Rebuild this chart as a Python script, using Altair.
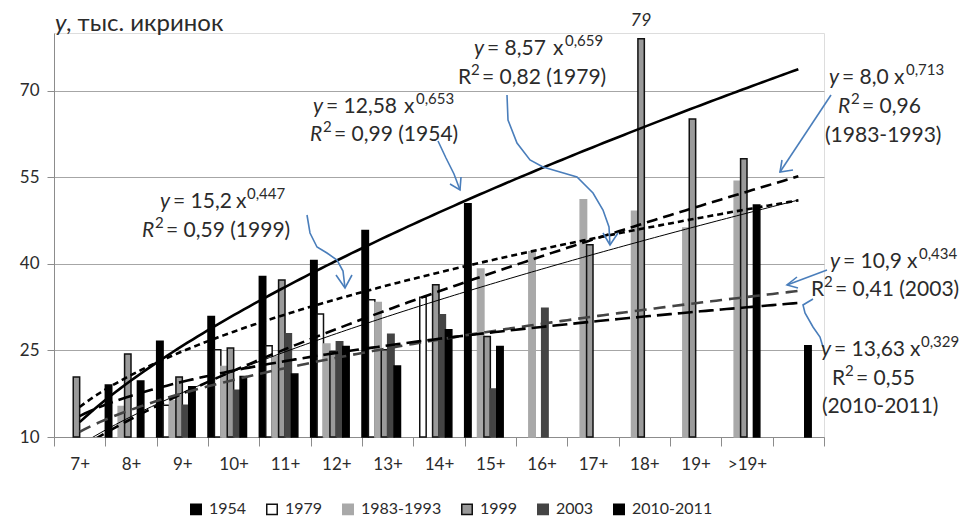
import altair as alt
import pandas as pd

# ---------------- data ----------------
categories = ["7+", "8+", "9+", "10+", "11+", "12+", "13+", "14+", "15+",
              "16+", "17+", "18+", "19+", ">19+", " "]
series = ["1954", "1979", "1983-1993", "1999", "2003", "2010-2011"]

N = None
v1954 = [N, 19.0, 26.6, 30.9, 37.8, 40.6, 45.8, N, 50.4, N, N, N, N, N, N]
v1979 = [N, N, 15.5, 25.1, 25.8, 31.3, 33.8, 34.2, N, N, N, N, N, N, N]
v1983 = [N, 15.3, 16.3, 22.2, 23.9, 26.1, 33.3, N, 39.1, 42.1, 51.1, 49.1, 46.2, 54.3, N]
v1999 = [20.4, 24.4, 20.4, 25.4, 37.2, 24.8, 25.1, 36.4, 27.4, N, 43.3, 79.0, 65.1, 58.2, N]
v2003 = [N, N, 15.5, 18.1, 27.9, 26.5, 27.8, 31.2, 18.3, 32.3, N, N, N, N, N]
v2010 = [N, 19.7, 18.7, 20.5, 20.9, 25.7, 22.3, 28.6, 25.7, N, N, N, N, 50.2, 25.8]
all_values = [v1954, v1979, v1983, v1999, v2003, v2010]

# power trend lines y = a * x^b  (as printed on the chart)
trend_a = [12.58, 8.57, 8.0, 15.2, 10.9, 13.63]
trend_b = [0.653, 0.659, 0.713, 0.447, 0.434, 0.329]

# ---------------- styling ----------------
FONT = "Lato"
TXT = "#2b2b2b"
BLUE = "#4a7ebb"
W, H = 770, 404
OX, OY = 54, 33  # plot origin on the page

fill_range = ["#000000", "#ffffff", "#a9a9a9", "#9a9a9a", "#444444", "#000000"]
stroke_range = ["#000000", "#111111", "#a9a9a9", "#111111", "#444444", "#000000"]
line_styles = [
    dict(color="#000000", strokeWidth=2.6),
    dict(color="#000000", strokeWidth=1.0),
    dict(color="#000000", strokeWidth=2.6, strokeDash=[11, 6]),
    dict(color="#000000", strokeWidth=2.6, strokeDash=[6, 4]),
    dict(color="#444444", strokeWidth=2.6, strokeDash=[12, 7]),
    dict(color="#000000", strokeWidth=2.6, strokeDash=[15, 6]),
]

rows = []
for s, vals in zip(series, all_values):
    for c, v in zip(categories, vals):
        if v is not None:
            rows.append({"cat": c, "series": s, "value": v, "base": 10})
bars_df = pd.DataFrame(rows)

yscale = alt.Scale(domain=[10, 80], nice=False, zero=False)
slot_domain = series + ["_g1", "_g2"]

legend = alt.Legend(
    title=None, orient="none", direction="horizontal", columns=6,
    legendX=134, legendY=468, symbolType="square", symbolSize=110,
    symbolStrokeWidth=1.5, labelFont=FONT, labelFontSize=16, labelColor=TXT,
    columnPadding=16, labelOffset=5, padding=0,
)

bars = alt.Chart(bars_df).mark_bar(strokeWidth=1.5).encode(
    x=alt.X("cat:N", sort=categories,
            scale=alt.Scale(domain=categories, paddingInner=0, paddingOuter=0),
            axis=alt.Axis(title=None, labelFont=FONT, labelFontSize=17, labelColor=TXT,
                          labelAngle=0, tickBand="extent", tickSize=9, tickColor="#8c8c8c",
                          domainColor="#8c8c8c", labelPadding=10)),
    xOffset=alt.XOffset("series:N",
                        scale=alt.Scale(domain=slot_domain, paddingInner=0, paddingOuter=0)),
    y=alt.Y("value:Q", scale=yscale,
            axis=alt.Axis(title=None, values=[10, 25, 40, 55, 70], grid=True,
                          gridColor="#a6a6a6", domainColor="#8c8c8c", tickColor="#8c8c8c",
                          tickSize=7, labelFont=FONT, labelFontSize=17, labelColor=TXT,
                          labelPadding=8)),
    y2="base:Q",
    fill=alt.Fill("series:N", scale=alt.Scale(domain=series, range=fill_range), legend=legend),
    stroke=alt.Stroke("series:N", scale=alt.Scale(domain=series, range=stroke_range), legend=legend),
)

# trend line sample table (x positions 1..15 on the category index)
xs = [1 + i * 0.1 for i in range(141)]
trend_rows = []
for s, a, b in zip(series, trend_a, trend_b):
    for x in xs:
        trend_rows.append({"series": s, "a": a, "b": b, "x": x})
trend_df = pd.DataFrame(trend_rows)

line_layers = []
for s, st in zip(series, line_styles):
    line_layers.append(
        alt.Chart(trend_df).transform_filter(alt.datum.series == s)
        .transform_calculate(y="datum.a * pow(datum.x, datum.b)")
        .mark_line(clip=True, **st)
        .encode(x=alt.X("x:Q", scale=alt.Scale(domain=[0.5, 15.5], nice=False, zero=False), axis=None),
                y=alt.Y("y:Q", scale=yscale, axis=None))
    )

# ---------------- annotations (page pixel positions) ----------------
F1, FS = 21, 15
# (text, x, y, size, italic)
segments = [
    ("y", 55, 24, 24, True), (", тыс. икринок", 66, 24, 24, False),
    # 1999
    ("y", 160, 202, F1, True), ("= 15,2", 173, 202, F1, False), ("x", 236, 202, F1, False),
    ("0,447", 247, 194, FS, False),
    ("R", 142, 231, F1, True), ("2", 155, 223, FS, False), ("= 0,59  (1999)", 166, 231, F1, False),
    # 1954
    ("y", 313, 107, F1, True), ("= 12,58", 326, 107, F1, False), ("x", 404, 107, F1, False),
    ("0,653", 416, 99, FS, False),
    ("R", 310, 135, F1, True), ("2", 323, 127, FS, False), ("= 0,99 (1954)", 334, 135, F1, False),
    # 1979
    ("y", 474, 49, F1, True), ("= 8,57", 487, 49, F1, False), ("x", 553, 49, F1, False),
    ("0,659", 565, 41, FS, False),
    ("R", 458, 78, F1, False), ("2", 471, 70, FS, False), ("= 0,82 (1979)", 482, 78, F1, False),
    # 1983-1993
    ("y", 829, 78, F1, True), ("= 8,0", 842, 78, F1, False), ("x", 894, 78, F1, False),
    ("0,713", 906, 70, FS, False),
    ("R", 838, 107, F1, True), ("2", 851, 99, FS, False), ("= 0,96", 862, 107, F1, False),
    ("(1983-1993)", 825, 136, F1, False),
    # 2003
    ("y", 830, 262, F1, True), ("= 10,9", 843, 262, F1, False), ("x", 907, 262, F1, False),
    ("0,434", 919, 254, FS, False),
    ("R", 811, 290, F1, False), ("2", 824, 282, FS, False), ("= 0,41 (2003)", 835, 290, F1, False),
    # 2010-2011
    ("y", 821, 350, F1, True), ("= 13,63", 834, 350, F1, False), ("x", 910, 350, F1, False),
    ("0,329", 921, 342, FS, False),
    ("R", 832, 379, F1, False), ("2", 845, 371, FS, False), ("= 0,55", 856, 379, F1, False),
    ("(2010-2011)", 822, 407, F1, False),
]
seg_df = pd.DataFrame([{"t": t, "px": x - OX, "py": y - OY, "fs": fs, "it": it}
                       for t, x, y, fs, it in segments])

def text_layer(italic):
    return alt.Chart(seg_df).transform_filter(alt.datum.it == italic).mark_text(
        align="left", baseline="middle", font=FONT, color=TXT,
        fontStyle="italic" if italic else "normal", clip=False,
    ).encode(x=alt.X("px:Q", scale=None, axis=None), y=alt.Y("py:Q", scale=None, axis=None),
             text="t:N", size=alt.Size("fs:Q", scale=None, legend=None))

peak_label = alt.Chart(pd.DataFrame([{"t": "79", "px": 641 - OX, "py": 21 - OY}])).mark_text(
    align="center", baseline="middle", font=FONT, fontSize=18, fontStyle="italic", color=TXT
).encode(x=alt.X("px:Q", scale=None, axis=None), y=alt.Y("py:Q", scale=None, axis=None), text="t:N")

# arrows / connectors as polylines (page pixel positions)
paths = {
    "a1": [(307, 215), (310, 233), (317, 247), (327, 253), (337, 260), (343, 271), (345, 288)],
    "a1h": [(336, 275), (345, 288), (352, 275)],
    "a2": [(438, 141), (446, 158), (454, 174), (460, 190)],
    "a2h": [(450, 184), (460, 190), (461, 177)],
    "a3": [(507, 95), (508, 120), (517, 143), (530, 160), (543, 167), (560, 172), (577, 177),
           (593, 193), (603, 210), (609, 227), (610, 245)],
    "a3h": [(603, 233), (610, 245), (618, 233)],
    "a4": [(831, 95), (780, 172)],
    "a4h": [(782, 160), (780, 172), (793, 170)],
    "a5": [(827, 270), (787, 285)],
    "a5h": [(797, 277), (787, 285), (798, 288)],
    "a6": [(813, 299), (803, 305), (805, 313), (813, 327), (820, 337), (823, 347)],
}
arrow_rows = []
for k, pts in paths.items():
    for i, (x, y) in enumerate(pts):
        arrow_rows.append({"g": k, "i": i, "px": x - OX, "py": y - OY})
arrow_df = pd.DataFrame(arrow_rows)
arrows = alt.Chart(arrow_df).mark_line(color=BLUE, strokeWidth=1.6, clip=False).encode(
    x=alt.X("px:Q", scale=None, axis=None), y=alt.Y("py:Q", scale=None, axis=None),
    detail="g:N", order="i:Q")

chart = alt.layer(bars, *line_layers, arrows, text_layer(True), text_layer(False), peak_label).resolve_scale(
    x="independent", y="independent", fill="independent", stroke="independent", size="independent"
).properties(
    width=W, height=H, autosize=alt.AutoSizeParams(type="none"),
    padding={"left": OX - 8, "top": OY - 8, "right": 954 - (OX - 8) - W, "bottom": 514 - (OY - 8) - H},
).configure_view(stroke=None).configure(background="#ffffff")

chart.save("out.html", embed_options={"renderer": "svg", "actions": False})
